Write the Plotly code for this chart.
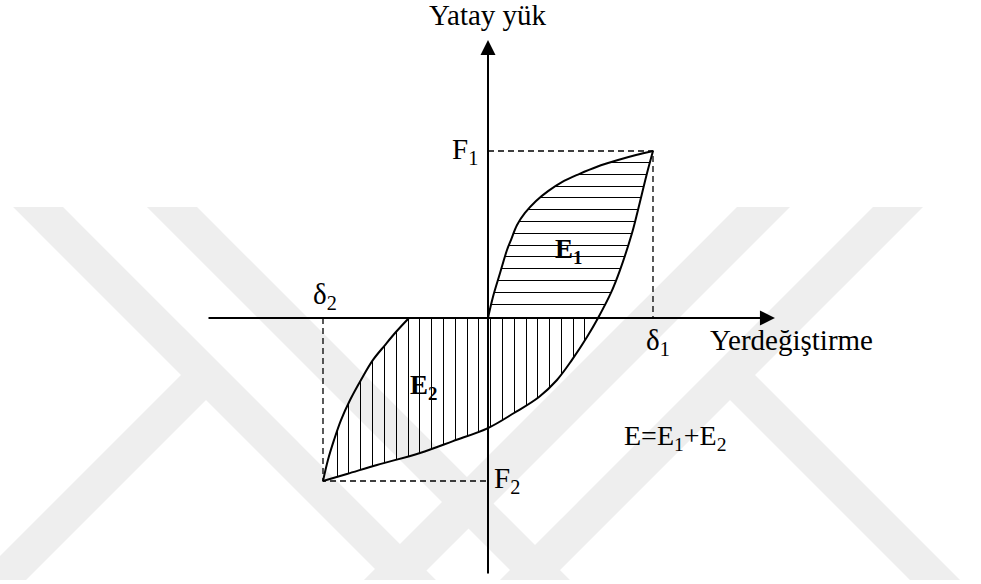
import plotly.graph_objects as go

# ---------------- data (normalised: delta1 = 1, F1 = 1) ----------------
delta1, F1 = 1.0, 1.0
delta2, F2 = -1.0, -0.976

# loading branch: origin -> (delta1, F1)
loading_x = [0.0, 0.030, 0.073, 0.115, 0.139, 0.176, 0.224, 0.291, 0.364, 0.448, 0.552, 0.661,
             0.788, 0.897, 1.0]
loading_y = [0.0, 0.126, 0.269, 0.407, 0.467, 0.557, 0.629, 0.701, 0.760, 0.814, 0.862, 0.906,
             0.946, 0.976, 1.0]

# unloading branch: (delta1, F1) -> (delta2, F2)
unload_x = [1.0, 0.964, 0.909, 0.873, 0.800, 0.745, 0.667, 0.600, 0.509, 0.418, 0.309, 0.158,
            0.0, -0.212, -0.412, -0.673, -0.855, -1.0]
unload_y = [1.0, 0.868, 0.647, 0.509, 0.287, 0.150, 0.0, -0.114, -0.251, -0.371, -0.473, -0.569,
            -0.659, -0.737, -0.808, -0.880, -0.934, -0.976]

# reloading branch: (delta2, F2) -> axis
reload_x = [-1.0, -0.970, -0.933, -0.891, -0.836, -0.770, -0.697, -0.624, -0.558, -0.479]
reload_y = [-0.976, -0.850, -0.730, -0.611, -0.491, -0.371, -0.251, -0.162, -0.084, 0.0]

# axis extents
x_axis_min, x_axis_max = -1.703, 1.739
y_axis_min, y_axis_max = -1.539, 1.665

# ---------------- layout geometry ----------------
W, H = 981, 584
ox, oy = 488, 318          # pixel position of origin
sx, sy = 165, 167          # pixels per unit
x_range = [-ox / sx, (W - ox) / sx]
y_range = [(oy - H) / sy, oy / sy]

FONT = "Liberation Serif, Times New Roman, serif"
WM = "#eeeeee"
HATCH_STEP = 11.8          # px between hatch lines

fig = go.Figure()

# ---------------- hatched areas ----------------
i0 = unload_y.index(0.0)
e1_x = loading_x + unload_x[1:i0 + 1]
e1_y = loading_y + unload_y[1:i0 + 1]
e2_x = unload_x[i0:] + reload_x[1:]
e2_y = unload_y[i0:] + reload_y[1:]


def crossings(px_, py_, level, horizontal):
    """Return sorted coordinates where the closed polygon crosses a line."""
    out = []
    n = len(px_)
    for k in range(n):
        x1, y1 = px_[k], py_[k]
        x2, y2 = px_[(k + 1) % n], py_[(k + 1) % n]
        a1, a2 = (y1, y2) if horizontal else (x1, x2)
        b1, b2 = (x1, x2) if horizontal else (y1, y2)
        if (a1 - level) * (a2 - level) < 0:
            t = (level - a1) / (a2 - a1)
            out.append(b1 + t * (b2 - b1))
    return sorted(out)


def hatch(px_, py_, horizontal, start_px, stop_px):
    hx, hy = [], []
    p = start_px
    while p <= stop_px:
        pp = round(p) + 0.5
        level = (oy - pp) / sy if horizontal else (pp - ox) / sx
        c = crossings(px_, py_, level, horizontal)
        for a, b in zip(c[0::2], c[1::2]):
            if horizontal:
                hx += [a, b, None]
                hy += [level, level, None]
            else:
                hx += [level, level, None]
                hy += [a, b, None]
        p += HATCH_STEP
    return hx, hy


h1x, h1y = hatch(e1_x, e1_y, True, 162, 310)
h2x, h2y = hatch(e2_x, e2_y, False, 336.7, 600)
for hx, hy in [(h1x, h1y), (h2x, h2y)]:
    fig.add_trace(go.Scatter(x=hx, y=hy, mode="lines", line=dict(color="black", width=1),
                             hoverinfo="skip", showlegend=False))

# ---------------- dashed guide lines ----------------
dash = dict(color="black", width=1.3, dash="6px,4px")
fig.add_trace(go.Scatter(x=[0, delta1, delta1], y=[F1, F1, 0], mode="lines",
                         line=dash, hoverinfo="skip", showlegend=False))
fig.add_trace(go.Scatter(x=[delta2, delta2, 0], y=[0, F2, F2], mode="lines",
                         line=dash, hoverinfo="skip", showlegend=False))

# ---------------- loop curves ----------------
for cx, cy in [(loading_x, loading_y), (unload_x, unload_y), (reload_x, reload_y)]:
    fig.add_trace(go.Scatter(x=cx, y=cy, mode="lines",
                             line=dict(color="black", width=2, shape="spline", smoothing=1.0),
                             hoverinfo="skip", showlegend=False))

# ---------------- axes with arrows ----------------
fig.add_annotation(x=x_axis_max, y=0, ax=x_axis_min, ay=0, xref="x", yref="y",
                   axref="x", ayref="y", text="", showarrow=True, arrowhead=2,
                   arrowsize=1.5, arrowwidth=2, arrowcolor="black")
fig.add_annotation(x=0, y=y_axis_max, ax=0, ay=y_axis_min, xref="x", yref="y",
                   axref="x", ayref="y", text="", showarrow=True, arrowhead=2,
                   arrowsize=1.5, arrowwidth=2, arrowcolor="black")

# ---------------- labels ----------------
def label(text, x, y, size=29, **kw):
    fig.add_annotation(x=x, y=y, xref="x", yref="y", text=text, showarrow=False,
                       font=dict(family=FONT, size=size, color="black"), **kw)

label("Yatay yük", 0, y_axis_max, yanchor="bottom", yshift=7)
label("Yerdeğiştirme", 1.333, 0, xanchor="left", yanchor="top", yshift=-4)
label("F<sub>1</sub>", 0, F1, xanchor="right", xshift=-8)
label("F<sub>2</sub>", 0, F2, xanchor="left", xshift=4, yshift=1)
label("δ<sub>1</sub>", delta1, 0, yanchor="top", yshift=-4, xshift=5)
label("δ<sub>2</sub>", delta2, 0, yanchor="bottom", yshift=2, xshift=2)
label("<b>E<sub>1</sub></b>", 0.485, 0.40, size=27)
label("<b>E<sub>2</sub></b>", -0.388, -0.413, size=27)
label("E=E<sub>1</sub>+E<sub>2</sub>", 1.139, -0.713, size=28)

# ---------------- faint background watermark ----------------
bands = [
    [(13, 207), (63, 207), (436, 580), (386, 580)],
    [(147, 207), (197, 207), (570, 580), (520, 580)],
    [(737, 207), (790, 207), (417, 580), (364, 580)],
    [(873, 207), (923, 207), (550, 580), (500, 580)],
    [(705, 375), (755, 375), (960, 580), (910, 580)],
    [(231, 375), (181, 375), (-24, 580), (26, 580)],
]
for poly in bands:
    path = "M " + " L ".join(f"{px / W:.4f},{1 - py / H:.4f}" for px, py in poly) + " Z"
    fig.add_shape(type="path", path=path, xref="paper", yref="paper",
                  fillcolor=WM, line=dict(width=0), layer="below")

fig.update_layout(
    width=W, height=H, margin=dict(l=0, r=0, t=0, b=0),
    paper_bgcolor="white", plot_bgcolor="white",
    xaxis=dict(range=x_range, visible=False, fixedrange=True),
    yaxis=dict(range=y_range, visible=False, fixedrange=True),
    showlegend=False,
)

fig.write_html("out.html", config={"displayModeBar": False},
               post_script="document.body.style.margin='0px';")
